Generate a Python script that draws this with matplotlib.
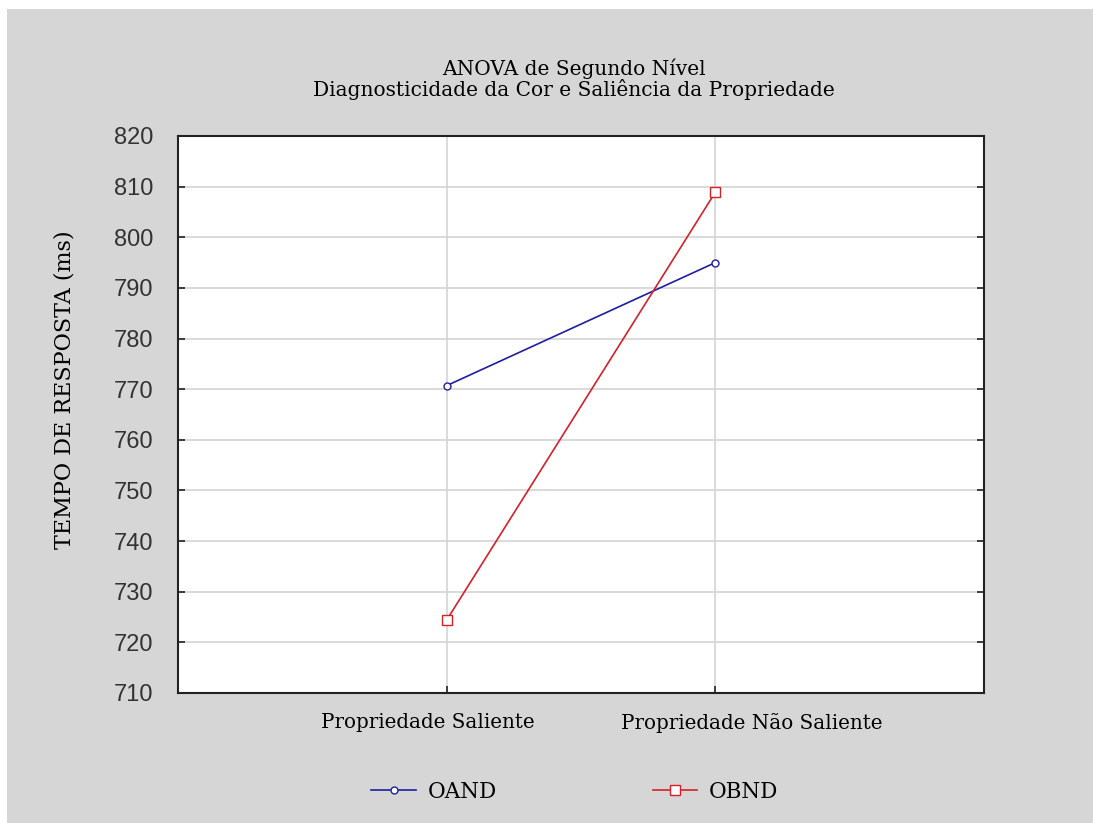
import numpy as np
import matplotlib.pyplot as plt
from matplotlib.transforms import offset_copy
from matplotlib.patches import Rectangle
from matplotlib.lines import Line2D

categories = ["Propriedade Saliente", "Propriedade Não Saliente"]
oand = [770.7, 795.0]
obnd = [724.4, 808.9]
y_ticks = [710, 720, 730, 740, 750, 760, 770, 780, 790, 800, 810, 820]

serif = ["DejaVu Serif"]
sans = ["Liberation Sans", "DejaVu Sans"]
blue = "#1e1ea0"
red = "#d42028"

W, H = 1094, 823
fig = plt.figure(figsize=(10.94, 8.23), dpi=100, facecolor="white")
# gray panel, leaving a thin white border at top/left
fig.patches.append(Rectangle((7 / W, 0), 1 - 8 / W, 1 - 9 / H,
                             transform=fig.transFigure, facecolor="#d6d6d6",
                             edgecolor="none", zorder=-10))

ax = fig.add_axes([178 / W, 1 - 693 / H, (984 - 178) / W, (693 - 136) / H])
ax.set_facecolor("white")

x = np.arange(len(categories))
ax.plot(x, oand, color=blue, linewidth=1.2, marker="o", markersize=5,
        markerfacecolor="white", markeredgecolor=blue, zorder=3)
ax.plot(x, obnd, color=red, linewidth=1.2, marker="s", markersize=6.5,
        markerfacecolor="white", markeredgecolor=red, zorder=3)

ax.set_xlim(-1, 2)
ax.set_ylim(710, 820)
ax.set_yticks(y_ticks)
ax.set_xticks(x)
ax.set_xticklabels([])
# category labels sit a bit off their ticks in the original
for xi, name, dx in zip(x, categories, [-19, 36]):
    tr = offset_copy(ax.get_xaxis_transform(), fig=fig, x=dx, y=-30, units="dots")
    ax.text(xi, 0, name, transform=tr, ha="center", va="center",
            family=serif, fontsize=14.3, clip_on=False)
for lab in ax.get_yticklabels():
    lab.set_family(sans)
    lab.set_fontsize(17)
    lab.set_color("#333333")
ax.tick_params(direction="in", length=5, width=1.2, color="#222222", right=True)
ax.tick_params(axis="y", pad=18)
ax.grid(True, color="#d4d4d4", linewidth=1.2)
ax.set_axisbelow(True)
for s in ax.spines.values():
    s.set_linewidth(1.5)
    s.set_color("#222222")

fig.text(65 / W, 1 - 390 / H, "TEMPO DE RESPOSTA (ms)", rotation=90, ha="center", va="center",
         family=serif, fontsize=16)

fig.text(574 / W, 1 - 69 / H, "ANOVA de Segundo Nível", ha="center", va="center",
         family=serif, fontsize=14.5)
fig.text(574 / W, 1 - 89 / H, "Diagnosticidade da Cor e Saliência da Propriedade",
         ha="center", va="center", family=serif, fontsize=14.5)

handles = [
    Line2D([], [], color=blue, linewidth=1.2, marker="o", markersize=5,
           markerfacecolor="white", markeredgecolor=blue),
    Line2D([], [], color=red, linewidth=1.2, marker="s", markersize=6.5,
           markerfacecolor="white", markeredgecolor=red),
]
fig.legend(handles, ["OAND", "OBND"], loc="center", bbox_to_anchor=(575 / W, 1 - 792 / H),
           ncol=2, frameon=False, prop={"family": serif, "size": 15.5},
           columnspacing=7.25, handlelength=2.05, handletextpad=0.56)

fig.savefig("out.png", dpi=100, facecolor=fig.get_facecolor())
